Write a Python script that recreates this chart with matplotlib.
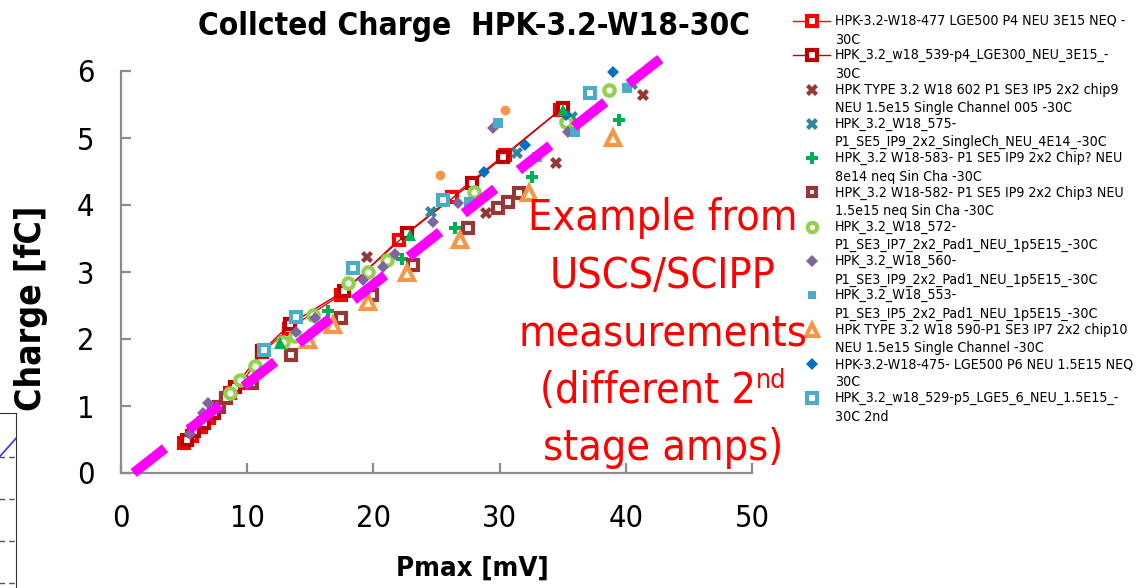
import matplotlib
matplotlib.use("Agg")
import matplotlib.pyplot as plt
from matplotlib import font_manager as fm
from matplotlib.lines import Line2D

# ***** DATA *****
# red line series (LGE500 P4) and dark red line series (LGE300)
s477_x = [5.0, 5.6, 6.3, 7.0, 8.6, 9.6, 11.2, 13.3, 17.4, 22.0, 26.2, 30.4, 34.8]
s477_y = [0.45, 0.55, 0.68, 0.82, 1.20, 1.35, 1.80, 2.15, 2.66, 3.48, 4.12, 4.75, 5.42]
s539_x = [5.2, 5.8, 6.6, 7.4, 9.0, 11.2, 13.4, 17.7, 22.7, 27.8, 30.3, 35.0]
s539_y = [0.50, 0.62, 0.75, 0.90, 1.28, 1.82, 2.22, 2.72, 3.58, 4.33, 4.72, 5.45]

s602_x = [19.5, 28.9, 34.5, 41.4]
s602_y = [3.22, 3.88, 4.63, 5.64]
s575_x = [24.6, 31.4, 35.7, 40.5]
s575_y = [3.90, 4.78, 5.31, 5.80]
s583_x = [16.4, 22.3, 26.5, 32.6, 39.5]
s583_y = [2.42, 3.20, 3.66, 4.42, 5.27]
s582_x = [7.8, 8.3, 10.4, 13.5, 17.4, 19.9, 23.1, 27.5, 29.9, 30.7, 31.5]
s582_y = [0.98, 1.12, 1.34, 1.76, 2.32, 2.65, 3.10, 3.66, 3.96, 4.05, 4.18]
s572_x = [8.6, 9.4, 10.6, 12.8, 13.8, 15.2, 18.0, 19.6, 21.1, 28.0, 35.3, 38.7]
s572_y = [1.20, 1.39, 1.60, 1.96, 2.04, 2.36, 2.84, 3.00, 3.18, 4.19, 5.24, 5.72]
s560_x = [5.5, 6.0, 6.5, 6.9, 13.9, 15.4, 19.2, 20.8, 21.7, 24.7, 26.7, 29.5, 35.4]
s560_y = [0.58, 0.75, 0.90, 1.05, 2.10, 2.31, 2.88, 3.07, 3.27, 3.75, 4.03, 5.15, 5.09]
s553_x = [27.6, 29.9, 33.0, 36.0, 40.1]
s553_y = [4.05, 5.22, 4.72, 5.09, 5.75]
s590_x = [14.8, 16.8, 19.6, 22.7, 26.9, 32.3, 39.0]
s590_y = [1.99, 2.21, 2.55, 2.99, 3.48, 4.18, 5.00]
s475_x = [28.8, 32.0, 35.3, 39.0]
s475_y = [4.49, 4.90, 5.34, 5.99]
s529_x = [11.3, 13.9, 18.4, 25.5, 37.2]
s529_y = [1.84, 2.33, 3.06, 4.07, 5.67]
# unlabelled extras
orange_dot_x = [25.3, 30.4]
orange_dot_y = [4.45, 5.42]
green_tri_x = [12.6, 22.9, 35.0]
green_tri_y = [1.94, 3.55, 5.42]

# magenta trend line
trend_x = [1.0, 42.8]
trend_y = [0.0, 6.19]

# fragment of a neighbouring plot at the left edge
frag_x = [0.5, 1.0]
frag_y = [0.63, 0.28]
frag_grid = [0.49, 0.95, 1.42, 1.88]

labels = [
    "HPK-3.2-W18-477 LGE500 P4 NEU 3E15 NEQ -\n30C",
    "HPK_3.2_w18_539-p4_LGE300_NEU_3E15_-\n30C",
    "HPK TYPE 3.2 W18 602 P1 SE3 IP5 2x2 chip9\nNEU 1.5e15 Single Channel 005 -30C",
    "HPK_3.2_W18_575-\nP1_SE5_IP9_2x2_SingleCh_NEU_4E14_-30C",
    "HPK_3.2 W18-583- P1 SE5 IP9 2x2 Chip? NEU\n8e14 neq Sin Cha -30C",
    "HPK_3.2 W18-582- P1 SE5 IP9 2x2 Chip3 NEU\n1.5e15 neq Sin Cha -30C",
    "HPK_3.2_W18_572-\nP1_SE3_IP7_2x2_Pad1_NEU_1p5E15_-30C",
    "HPK_3.2_W18_560-\nP1_SE3_IP9_2x2_Pad1_NEU_1p5E15_-30C",
    "HPK_3.2_W18_553-\nP1_SE3_IP5_2x2_Pad1_NEU_1p5E15_-30C",
    "HPK TYPE 3.2 W18 590-P1 SE3 IP7 2x2 chip10\nNEU 1.5e15 Single Channel -30C",
    "HPK-3.2-W18-475- LGE500 P6 NEU 1.5E15 NEQ\n30C",
    "HPK_3.2_w18_529-p5_LGE5_6_NEU_1.5E15_-\n30C 2nd",
]

# ***** FONT *****
# the slide text is narrow (Calibri-like); use a condensed face if one is installed
CANDIDATES = [('Liberation Sans Narrow', 'normal'), ('Noto Sans Condensed', 'normal'),
              ('Noto Sans SemiCondensed', 'normal'), ('Open Sans Condensed', 'normal'),
              ('Open Sans SemiCondensed', 'normal'), ('Roboto Condensed', 'normal'),
              ('DejaVu Sans Condensed', 'normal'), ('DejaVu Sans', 'condensed'),
              ('Noto Sans', 'condensed'), ('Noto Sans', 'semi-condensed'),
              ('Open Sans', 'condensed'), ('Open Sans', 'semi-condensed')]


def weight_of(f):
    w = f.weight
    if isinstance(w, str):
        w = fm.weight_dict.get(w, 400)
    return w


def pick_font(lo, hi):
    for name, stretch in CANDIDATES:
        for f in fm.fontManager.ttflist:
            if f.name == name and f.stretch == stretch and f.style == 'normal' \
                    and lo <= weight_of(f) <= hi:
                return name, stretch
    return 'Liberation Sans', 'normal'


REG = pick_font(350, 450)
BOLD = pick_font(600, 900)
plt.rcParams['font.family'] = [REG[0], 'Liberation Sans', 'DejaVu Sans']
plt.rcParams['font.stretch'] = REG[1]
reg_kw = dict(family=REG[0], fontstretch=REG[1], fontweight='normal')
bold_kw = dict(family=BOLD[0], fontstretch=BOLD[1], fontweight='bold')

# ***** STYLES *****
styles = [
    dict(marker='s', color='#FF0000', mfc='white', mec='#FF0000', ms=7.5, mew=3.0, ls='-', lw=1.0),
    dict(marker='s', color='#C00000', mfc='white', mec='#C00000', ms=7.5, mew=3.0, ls='-', lw=1.0),
    dict(marker='X', color='#953735', ms=9, mew=0, ls='none'),
    dict(marker='X', color='#31859C', ms=9, mew=0, ls='none'),
    dict(marker='P', color='#00B050', ms=9, mew=0, ls='none'),
    dict(marker='s', color='#953735', mfc='white', mec='#953735', ms=7, mew=3.0, ls='none'),
    dict(marker='o', color='#92D050', mfc='white', mec='#92D050', ms=7.5, mew=3.0, ls='none'),
    dict(marker='D', color='#8064A2', ms=6.5, mew=0, ls='none'),
    dict(marker='s', color='#4BACC6', ms=7, mew=0, ls='none'),
    dict(marker='^', color='#F79646', mfc='white', mec='#F79646', ms=9.5, mew=3.0, ls='none'),
    dict(marker='D', color='#0070C0', ms=6.5, mew=0, ls='none'),
    dict(marker='s', color='#4BACC6', mfc='white', mec='#4BACC6', ms=7.5, mew=3.0, ls='none'),
]
series = [(s477_x, s477_y), (s539_x, s539_y), (s602_x, s602_y), (s575_x, s575_y),
          (s583_x, s583_y), (s582_x, s582_y), (s572_x, s572_y), (s560_x, s560_y),
          (s553_x, s553_y), (s590_x, s590_y), (s475_x, s475_y), (s529_x, s529_y)]

W, H = 1137, 588
fig = plt.figure(figsize=(W / 100, H / 100), dpi=100)
ax = fig.add_axes([121 / W, 115 / H, 631 / W, 402 / H])
renderer = fig.canvas.get_renderer()


def fit(txt, target, use_height=False):
    # scale a text so that its width (or height) matches the reference in pixels
    bb = txt.get_window_extent(renderer)
    size = bb.height if use_height else bb.width
    txt.set_fontsize(txt.get_fontsize() * target / size)
    return txt.get_fontsize()


for (xs, ys), st in zip(series, styles):
    ax.plot(xs, ys, clip_on=False, **st)
ax.plot(orange_dot_x, orange_dot_y, 'o', color='#F79646', ms=7, mew=0, clip_on=False)
ax.plot(green_tri_x, green_tri_y, '^', color='#00B050', ms=9, mew=0, clip_on=False)

ax.plot(trend_x, trend_y, color='#FF00FF', lw=7.2, dashes=(4, 3),
        solid_capstyle='butt', dash_capstyle='butt', clip_on=False, zorder=5)

ax.set_xlim(0, 50)
ax.set_ylim(0, 6)
ax.set_xticks([0, 10, 20, 30, 40, 50])
ax.set_yticks([0, 1, 2, 3, 4, 5, 6])
for side in ['top', 'right']:
    ax.spines[side].set_visible(False)
for side in ['left', 'bottom']:
    ax.spines[side].set_color('#8C8C8C')
    ax.spines[side].set_linewidth(1.6)
ax.tick_params(axis='both', direction='in', color='#8C8C8C', width=1.6, labelsize=22)
ax.tick_params(axis='x', length=7, pad=22)
ax.tick_params(axis='y', length=7, pad=19)
for lab in ax.get_xticklabels() + ax.get_yticklabels():
    lab.set_fontfamily(REG[0])
    lab.set_fontstretch(REG[1])

xl = fig.text(472 / W, 1 - 569 / H, 'Pmax [mV]', fontsize=22, ha='center', va='center', **bold_kw)
fit(xl, 152)
yl = fig.text(31 / W, 1 - 308 / H, 'Charge [fC]', fontsize=22, ha='center', va='center',
              rotation=90, **bold_kw)
fit(yl, 205, use_height=True)
title = fig.text(474 / W, 1 - 26 / H, 'Collcted Charge  HPK-3.2-W18-30C', fontsize=28,
                 ha='center', va='center', **bold_kw)
fit(title, 552)

# red annotation
note_lines = ['Example from', 'USCS/SCIPP', 'measurements', '(different 2', 'stage amps)']
notes = []
for i, line in enumerate(note_lines):
    notes.append(fig.text(663 / W, 1 - (218 + 57.5 * i) / H, line, color='#FF0000',
                          fontsize=36, ha='center', va='center', **reg_kw))
note_size = fit(notes[2], 290)
for t in notes:
    t.set_fontsize(note_size)
# superscript "nd" after "(different 2"
sup = fig.text(0, 0, 'nd', color='#FF0000', fontsize=note_size * 0.62, ha='left',
               va='bottom', **reg_kw)
sup_w = sup.get_window_extent(renderer).width
notes[3].set_x((663 - sup_w / 2) / W)
bb3 = notes[3].get_window_extent(renderer)
sup.set_position((bb3.x1 / W, (bb3.y0 + bb3.height * 0.42) / H))

# legend drawn by hand
leg_texts = []
for i, (lab, st) in enumerate(zip(labels, styles)):
    yc = 1 - (21 + 34.3 * i) / H
    l1, l2 = lab.split('\n')
    leg_texts.append(fig.text(835 / W, yc, l1, fontsize=11.5, va='center', ha='left', **reg_kw))
    leg_texts.append(fig.text(835 / W, yc - 18.5 / H, l2, fontsize=11.5, va='center',
                              ha='left', **reg_kw))
    if st['ls'] == '-':
        fig.add_artist(Line2D([793 / W, 830 / W], [yc, yc], transform=fig.transFigure,
                              color=st['color'], lw=1.0))
    kw = {k: v for k, v in st.items() if k not in ('ls', 'lw')}
    kw['ms'] = kw['ms'] * 0.9
    fig.add_artist(Line2D([812 / W], [yc], transform=fig.transFigure, ls='none', **kw))
leg_size = min(fit(leg_texts[0], 290), 12)
for t in leg_texts:
    t.set_fontsize(leg_size)

# fragment of another plot at the left edge
ax2 = fig.add_axes([-40 / W, -10 / H, 56 / W, 185 / H])
ax2.plot(frag_x, frag_y, color='#3333FF', lw=1.2)
for g in frag_grid:
    ax2.axhline(g, color='#555555', lw=1.0, ls=(0, (4, 3)))
ax2.set_xlim(0, 1)
ax2.set_ylim(2.05, 0.0)
ax2.set_xticks([])
ax2.set_yticks([])
for side in ['left', 'bottom']:
    ax2.spines[side].set_visible(False)
ax2.spines['top'].set_color('#333333')
ax2.spines['right'].set_color('#333333')

fig.savefig('out.png', dpi=100)
